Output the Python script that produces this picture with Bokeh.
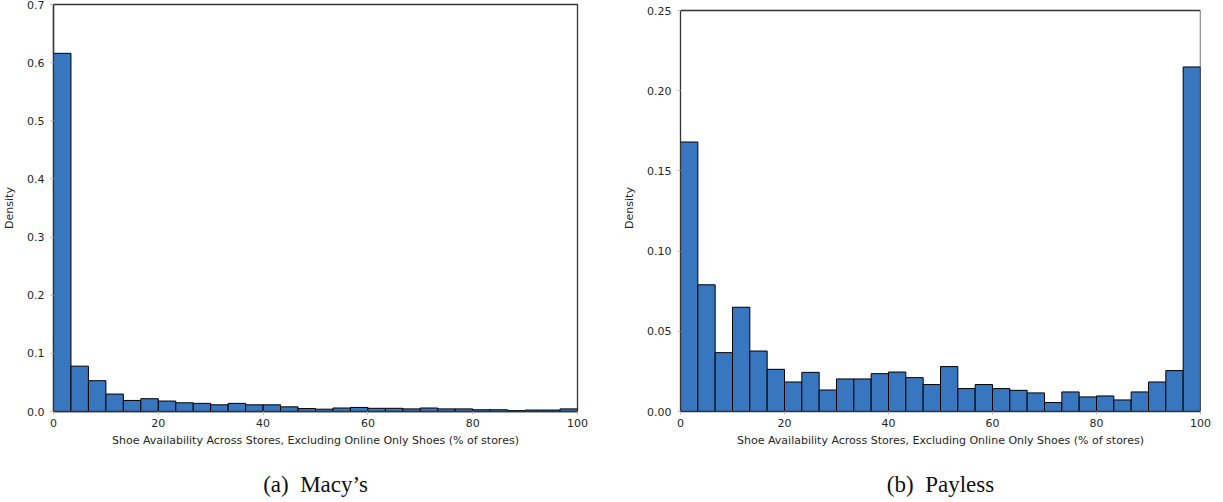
from bokeh.plotting import figure
from bokeh.layouts import row
from bokeh.models import FixedTicker, NumeralTickFormatter, Range1d, Title, Span
from bokeh.embed import file_html
from bokeh.resources import INLINE
import numpy as np

# ---- data ----
n_bins = 30
x_min, x_max = 0, 100
macys_density = [0.616, 0.078, 0.053, 0.030, 0.019, 0.022, 0.018, 0.015, 0.014, 0.0115,
                 0.014, 0.0115, 0.0115, 0.008, 0.005, 0.004, 0.006, 0.007, 0.0055, 0.0055,
                 0.0045, 0.006, 0.0045, 0.0045, 0.003, 0.003, 0.0015, 0.0025, 0.0025, 0.0045]
payless_density = [0.168, 0.079, 0.0367, 0.065, 0.0377, 0.0263, 0.0184, 0.0244, 0.0134, 0.0203,
                   0.0203, 0.0236, 0.0246, 0.0211, 0.0168, 0.028, 0.0143, 0.0168, 0.0143, 0.0132,
                   0.0116, 0.0056, 0.0122, 0.0091, 0.0097, 0.0072, 0.0122, 0.0184, 0.0255, 0.2148]
x_ticks = [0, 20, 40, 60, 80, 100]
macys_yticks = [0.0, 0.1, 0.2, 0.3, 0.4, 0.5, 0.6, 0.7]
macys_ymax = 0.7
payless_yticks = [0.0, 0.05, 0.10, 0.15, 0.20, 0.25]
payless_ymax = 0.25
x_label = "Shoe Availability Across Stores, Excluding Online Only Shoes (% of stores)"
y_label = "Density"
captions = ["(a)\u2002Macy\u2019s", "(b)\u2002Payless"]

edges = np.linspace(x_min, x_max, n_bins + 1)

BAR = "#3877bf"
TXT = "#262626"
FRAME = "#333333"

TOP = 4          # page top of the taller (left) frame
FRAME_H = 407    # frame height shared by both panels (row aligns the tops)


def make(density, yticks, ymax, fmt, caption, width, left, right, top_gap):
    # top_gap: pixels between the frame top and the y = ymax line
    y_end = ymax * FRAME_H / (FRAME_H - top_gap)
    p = figure(width=width, height=502, output_backend="svg", toolbar_location=None,
               x_range=Range1d(x_min, x_max), y_range=Range1d(0, y_end),
               min_border_left=left, min_border_right=right, min_border_top=TOP,
               min_border_bottom=10)
    p.frame_height = FRAME_H
    p.frame_width = width - left - right
    p.quad(left=edges[:-1], right=edges[1:], bottom=0, top=density,
           fill_color=BAR, line_color="black", line_width=1)
    p.xgrid.visible = False
    p.ygrid.visible = False
    if top_gap == 0:
        p.outline_line_color = FRAME
        p.outline_line_width = 1.3
    else:
        p.outline_line_color = None
        p.yaxis.bounds = (0, ymax)
        p.add_layout(Span(location=ymax, dimension="width",
                          line_color=FRAME, line_width=1.3))
        p.segment(x0=[x_max], y0=[0], x1=[x_max], y1=[ymax],
                  line_color=FRAME, line_width=1.3)
    p.xaxis.ticker = FixedTicker(ticks=x_ticks)
    p.yaxis.ticker = FixedTicker(ticks=yticks)
    p.yaxis.formatter = NumeralTickFormatter(format=fmt)
    for ax in (p.xaxis[0], p.yaxis[0]):
        ax.axis_line_color = FRAME
        ax.axis_line_width = 1.3
        ax.major_tick_in = 0
        ax.major_tick_out = 3
        ax.major_tick_line_color = "#bbbbbb"
        ax.minor_tick_line_color = None
        ax.major_label_text_font = "DejaVu Sans"
        ax.major_label_text_font_size = "11px"
        ax.major_label_text_color = TXT
        ax.axis_label_text_font = "DejaVu Sans"
        ax.axis_label_text_font_size = "11px"
        ax.axis_label_text_font_style = "normal"
        ax.axis_label_text_color = TXT
    p.xaxis.axis_label = x_label
    p.yaxis.axis_label = y_label
    p.xaxis.major_label_standoff = 4
    p.yaxis.major_label_standoff = 6
    p.xaxis.axis_label_standoff = 4
    p.yaxis.axis_label_standoff = 8
    t = Title(text=caption, align="center", text_font="Liberation Serif",
              text_font_size="23px", text_font_style="normal", text_color="#111111",
              standoff=40)
    p.add_layout(t, "below")
    return p


p1 = make(macys_density, macys_yticks, macys_ymax, "0.0", captions[0],
          width=610, left=53, right=33, top_gap=0)
p2 = make(payless_density, payless_yticks, payless_ymax, "0.00", captions[1],
          width=613, left=70, right=23, top_gap=6)

layout = row(p1, p2)
open("out.html", "w").write(file_html(layout, INLINE))
